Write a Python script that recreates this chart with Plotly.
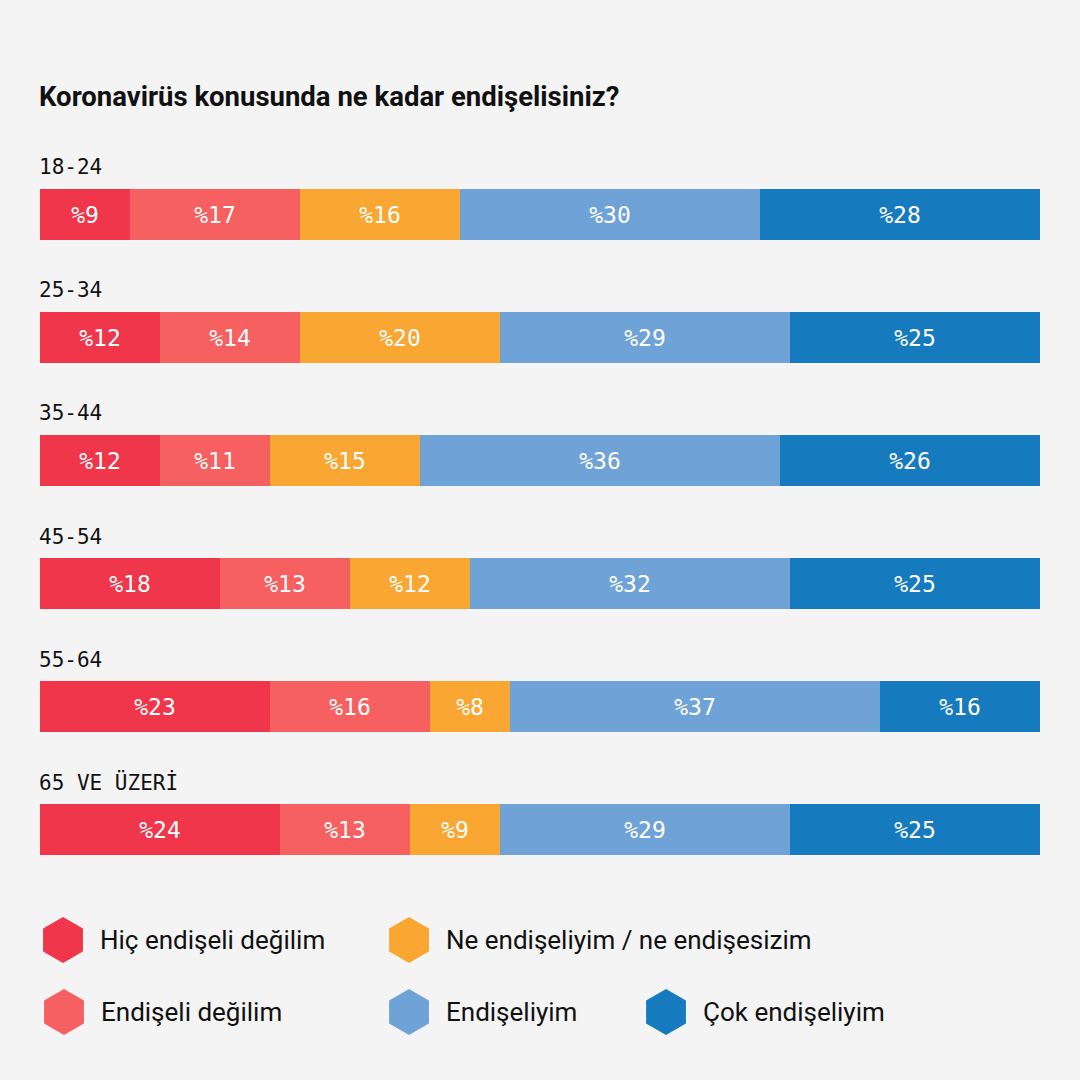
import plotly.graph_objects as go

# ---- data ----
age_groups = ["18-24", "25-34", "35-44", "45-54", "55-64", "65 VE ÜZERİ"]
series_names = [
    "Hiç endişeli değilim",
    "Endişeli değilim",
    "Ne endişeliyim / ne endişesizim",
    "Endişeliyim",
    "Çok endişeliyim",
]
hic_endiseli_degilim = [9, 12, 12, 18, 23, 24]
endiseli_degilim = [17, 14, 11, 13, 16, 13]
ne_ne = [16, 20, 15, 12, 8, 9]
endiseliyim = [30, 29, 36, 32, 37, 29]
cok_endiseliyim = [28, 25, 26, 25, 16, 25]
title_text = "Koronavirüs konusunda ne kadar endişelisiniz?"

# ---- styles ----
colors = ["#F0364A", "#F76060", "#F9A633", "#6FA3D7", "#167ABF"]
BG = "#F4F4F4"
MONO = "DejaVu Sans Mono"
SANS = "Roboto"

values = [hic_endiseli_degilim, endiseli_degilim, ne_ne, endiseliyim, cok_endiseliyim]

fig = go.Figure()
for name, vals, col in zip(series_names, values, colors):
    fig.add_trace(go.Bar(
        y=age_groups, x=vals, name=name, orientation="h",
        marker=dict(color=col, line=dict(width=0)),
        text=[f"%{v}" for v in vals],
        textposition="inside", insidetextanchor="middle",
        textangle=0, constraintext="none",
        textfont=dict(family=MONO, size=23, color="white"),
        showlegend=False, hoverinfo="skip",
    ))

# row labels above bars
for g in age_groups:
    fig.add_annotation(x=0, y=g, xref="x", yref="y", text=g, showarrow=False,
                       xanchor="left", yanchor="middle", yshift=47, xshift=-3,
                       font=dict(family=MONO, size=21, color="#111111"))

# title
fig.add_annotation(x=40 / 1080, y=1 - 96 / 1080, xref="paper", yref="paper",
                   text=f"<b>{title_text}</b>", showarrow=False,
                   xanchor="left", yanchor="middle", xshift=-3,
                   font=dict(family=SANS, size=27.5, color="#111111"))

# custom legend (hexagon swatches) on a full-page pixel-like axis
legend_pos = [(63, 940), (64, 1012), (409, 940), (409, 1012), (666, 1012)]
for (lx, ly), name, col in zip(legend_pos, series_names, colors):
    fig.add_trace(go.Scatter(
        x=[lx], y=[ly], xaxis="x2", yaxis="y2", mode="markers",
        marker=dict(symbol="hexagon", size=46, color=col, line=dict(width=0)),
        showlegend=False, hoverinfo="skip", cliponaxis=False,
    ))
    fig.add_annotation(x=lx + 35, y=ly, xref="x2", yref="y2", text=name,
                       showarrow=False, xanchor="left", yanchor="middle",
                       font=dict(family=SANS, size=26, color="#111111"))

fig.update_layout(
    width=1080, height=1080,
    margin=dict(l=0, r=0, t=0, b=0),
    paper_bgcolor=BG, plot_bgcolor="rgba(0,0,0,0)",
    barmode="stack", bargap=0.585,
    xaxis=dict(domain=[40 / 1080, 1040 / 1080], range=[0, 100],
               visible=False, fixedrange=True),
    yaxis=dict(domain=[1 - 891 / 1080, 1 - 153 / 1080], range=[5.5, -0.5],
               type="category", visible=False, fixedrange=True),
    xaxis2=dict(domain=[0, 1], range=[0, 1080], visible=False, anchor="y2",
                fixedrange=True),
    yaxis2=dict(domain=[0, 1], range=[1080, 0], visible=False, anchor="x2",
                fixedrange=True),
)

fig.write_html("out.html", config={"displayModeBar": False},
               post_script="document.body.style.margin='0';document.body.style.overflow='hidden';window.dispatchEvent(new Event('resize'));")
